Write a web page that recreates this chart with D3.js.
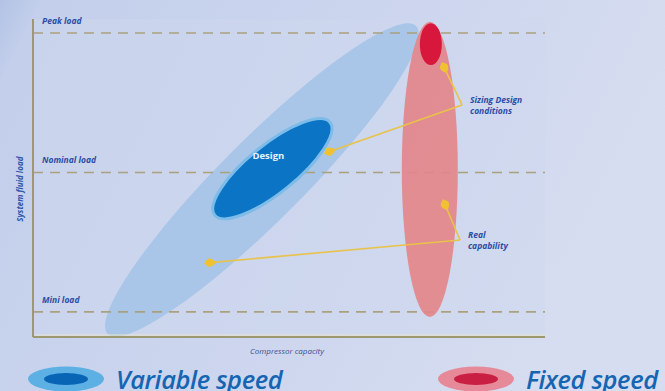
<!DOCTYPE html>
<html>
<head>
<meta charset="utf-8">
<script src="https://cdn.jsdelivr.net/npm/d3@7"></script>
<style>
  body { margin: 0; overflow: hidden; }
  svg { display: block; }
  text { font-family: "Open Sans", "DejaVu Sans", sans-serif; }
</style>
</head>
<body>
<div id="chart"></div>
<script>
// load levels (reference lines)
var levelNames = ["Peak load", "Nominal load", "Mini load"];
var levelValues = [100, 50, 0];

// operating regions: [capacity start, load start, capacity end, load end]
var variableEnvelope = [14.6, -7.9, 74.8, 102.5];
var variableDesign = [35.5, 34.7, 58, 68];
var fixedEnvelope = [77.5, -1.8, 77.5, 104];
var fixedDesign = [77.7, 88.5, 77.7, 103.5];

// annotation arrows: label anchor, then targets
var sizingAnchor = [83.8, 74.2];
var sizingTargets = [[79.9, 89.2], [57, 56.9]];
var realAnchor = [83.4, 25.8];
var realTargets = [[80.1, 40.1], [33.6, 17.5]];

var axisTitles = ["Compressor capacity", "System fluid load"];
var legendNames = ["Variable speed", "Fixed speed"];

var W = 665, H = 391;
var svg = d3.select("#chart").append("svg").attr("width", W).attr("height", H);

var defs = svg.append("defs");
var bg = defs.append("linearGradient").attr("id", "bg").attr("x1", 0).attr("x2", 1).attr("y1", 0).attr("y2", 0.3);
bg.append("stop").attr("offset", 0).attr("stop-color", "#b3c3e5");
bg.append("stop").attr("offset", 0.06).attr("stop-color", "#c3cfeb");
bg.append("stop").attr("offset", 0.6).attr("stop-color", "#cdd6ee");
bg.append("stop").attr("offset", 1).attr("stop-color", "#d6ddf0");
svg.append("rect").attr("width", W).attr("height", H).attr("fill", "url(#bg)");

var mk = defs.append("marker").attr("id", "head").attr("viewBox", "0 0 12 10")
  .attr("refX", 11).attr("refY", 5).attr("markerWidth", 12).attr("markerHeight", 10)
  .attr("markerUnits", "userSpaceOnUse").attr("orient", "auto");
mk.append("path").attr("d", "M0,5 Q4,0 8,1 L12,5 L8,9 Q4,10 0,5 Z").attr("fill", "#f0c232");

var x = d3.scaleLinear().domain([0, 100]).range([33, 545]);
var y = d3.scaleLinear().domain([-9, 100]).range([337, 33]);

// plot area tint
svg.append("rect").attr("x", x(0)).attr("y", y(105)).attr("width", x(100) - x(0))
  .attr("height", y(-9) - y(105)).attr("fill", "#cdd7ee").attr("opacity", 0.5);

var plot = svg.append("g");

// rotated ellipse from two end points and a half-width
function region(d, halfWidth, fill, stroke) {
  var x1 = x(d[0]), y1 = y(d[1]), x2 = x(d[2]), y2 = y(d[3]);
  var cx = (x1 + x2) / 2, cy = (y1 + y2) / 2;
  var rx = Math.hypot(x2 - x1, y2 - y1) / 2;
  var ang = Math.atan2(y2 - y1, x2 - x1) * 180 / Math.PI;
  return plot.append("ellipse").attr("cx", 0).attr("cy", 0).attr("rx", rx).attr("ry", halfWidth)
    .attr("transform", "translate(" + cx + "," + cy + ") rotate(" + ang + ")")
    .attr("fill", fill).attr("stroke", stroke || "none").attr("stroke-width", 3);
}

region(variableEnvelope, 41, "#a9c6e8");

// dashed load levels
plot.selectAll(".lvl").data(levelValues).enter().append("line")
  .attr("x1", x(0)).attr("x2", x(100)).attr("y1", function(d) { return y(d); }).attr("y2", function(d) { return y(d); })
  .attr("stroke", "#a99c72").attr("stroke-width", 1.6).attr("stroke-dasharray", "10,7").attr("opacity", 0.9);

region(variableDesign, 24, "#0b74c4", "#7dbbe8");
region(fixedEnvelope, 28, "#e2878b").attr("opacity", 0.93);
region(fixedDesign, 11, "#d8173c");

// axes
var axisG = svg.append("g");
axisG.append("line").attr("x1", x(0)).attr("x2", x(0)).attr("y1", y(105)).attr("y2", y(-9))
  .attr("stroke", "#9d9870").attr("stroke-width", 2);
axisG.append("line").attr("x1", x(0)).attr("x2", x(100)).attr("y1", y(-9)).attr("y2", y(-9))
  .attr("stroke", "#9d9870").attr("stroke-width", 2);
axisG.append("line").attr("x1", x(0) + 2).attr("x2", x(100)).attr("y1", y(-9) - 2).attr("y2", y(-9) - 2)
  .attr("stroke", "#e8e4c8").attr("stroke-width", 1);

// level labels
svg.selectAll(".lbl").data(levelNames).enter().append("text")
  .attr("x", x(0) + 9).attr("y", function(d, i) { return y(levelValues[i]) - 9; })
  .attr("font-size", 8.5).attr("font-weight", "bold").attr("font-style", "italic")
  .attr("fill", "#2b4da6").text(function(d) { return d; });

// design label
var dc = [(variableDesign[0] + variableDesign[2]) / 2, (variableDesign[1] + variableDesign[3]) / 2];
svg.append("text").attr("x", x(dc[0]) - 4).attr("y", y(dc[1]) - 10).attr("text-anchor", "middle")
  .attr("font-size", 9.5).attr("font-weight", "bold").attr("fill", "#e6f2ff").text("Design");

// arrows
function arrows(anchor, targets) {
  targets.forEach(function(t) {
    svg.append("line").attr("x1", x(anchor[0])).attr("y1", y(anchor[1]))
      .attr("x2", x(t[0])).attr("y2", y(t[1]))
      .attr("stroke", "#e9c24a").attr("stroke-width", 1.6).attr("marker-end", "url(#head)");
  });
}
arrows(sizingAnchor, sizingTargets);
arrows(realAnchor, realTargets);

function note(anchor, lines) {
  var t = svg.append("text").attr("x", x(anchor[0]) + 8).attr("y", y(anchor[1]) - 2)
    .attr("font-size", 8.5).attr("font-weight", "bold").attr("font-style", "italic").attr("fill", "#2b4da6");
  lines.forEach(function(l, i) {
    t.append("tspan").attr("x", x(anchor[0]) + 8).attr("dy", i === 0 ? 0 : 11).text(l);
  });
}
note(sizingAnchor, ["Sizing Design", "conditions"]);
note(realAnchor, ["Real", "capability"]);

// axis titles
svg.append("text").attr("x", x(50) - 2).attr("y", 354).attr("text-anchor", "middle")
  .attr("font-size", 8).attr("font-style", "italic").attr("fill", "#3a4f8e").text(axisTitles[0]);
svg.append("text").attr("transform", "translate(23," + y(44) + ") rotate(-90)").attr("text-anchor", "middle")
  .attr("font-size", 8).attr("font-weight", "bold").attr("font-style", "italic").attr("fill", "#2f55aa").text(axisTitles[1]);

// legend
var legendColors = [["#5cb0e4", "#0865b6"], ["#e68a9a", "#c91f42"]];
var legendX = [66, 476];
legendNames.forEach(function(name, i) {
  var g = svg.append("g").attr("transform", "translate(" + legendX[i] + ",379)");
  g.append("ellipse").attr("rx", 38).attr("ry", 12.5).attr("fill", legendColors[i][0]);
  g.append("ellipse").attr("rx", 22).attr("ry", 6).attr("fill", legendColors[i][1]);
  g.append("text").attr("x", 50).attr("y", 10).attr("font-size", 25.5).attr("font-style", "italic")
    .attr("font-weight", 600).attr("fill", "#1565b2").attr("letter-spacing", -0.4).text(name);
});
</script>
</body>
</html>
